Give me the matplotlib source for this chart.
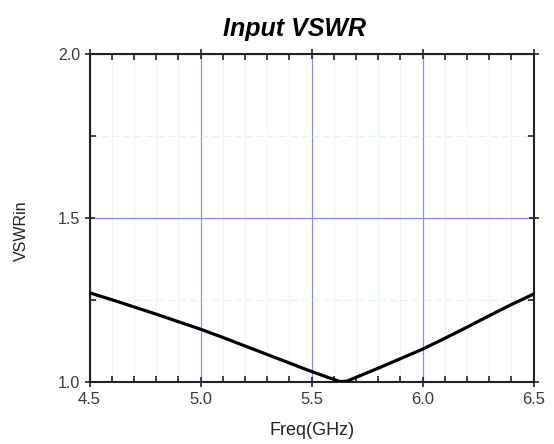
import matplotlib
matplotlib.use("Agg")
import matplotlib.pyplot as plt
from matplotlib.ticker import MultipleLocator

plt.rcParams['font.family'] = ['Liberation Sans', 'DejaVu Sans']

freq = [4.5, 4.6, 4.7, 4.8, 4.9, 5.0, 5.1, 5.2, 5.3, 5.4, 5.5, 5.6, 5.63, 5.66,
        5.7, 5.8, 5.9, 6.0, 6.1, 6.2, 6.3, 6.4, 6.5]
vswr = [1.272, 1.251, 1.229, 1.207, 1.184, 1.161, 1.136, 1.110, 1.084, 1.058,
        1.032, 1.008, 1.001, 1.003, 1.014, 1.042, 1.071, 1.100, 1.133, 1.167,
        1.202, 1.236, 1.268]
x_ticks = [4.5, 5.0, 5.5, 6.0, 6.5]
y_ticks = [1.0, 1.5, 2.0]

fig = plt.figure(figsize=(5.54, 4.44), dpi=100)
ax = fig.add_axes([0.1616, 0.1396, 0.8014, 0.7388])

ax.set_xlim(4.5, 6.5)
ax.set_ylim(1.0, 2.0)
ax.set_xticks(x_ticks)
ax.set_yticks(y_ticks)
ax.set_xticklabels([f"{v:.1f}" for v in x_ticks])
ax.set_yticklabels([f"{v:.1f}" for v in y_ticks])
ax.xaxis.set_minor_locator(MultipleLocator(0.1))
ax.yaxis.set_minor_locator(MultipleLocator(0.25))

# minor grid (light green)
ax.grid(which='minor', axis='x', color='#ebf8eb', linewidth=0.8, linestyle='-')
ax.grid(which='minor', axis='y', color='#e3f6e3', linewidth=0.8, linestyle=(0, (6, 4)))
# major grid (blue)
ax.grid(which='major', axis='both', color='#8c8cff', linewidth=0.9, linestyle='-')
ax.set_axisbelow(True)

ax.plot(freq, vswr, color='black', linewidth=2.3, solid_capstyle='round', zorder=3)

for s in ax.spines.values():
    s.set_color('#222222')
    s.set_linewidth(1.5)

ax.tick_params(which='major', direction='inout', length=7, width=1.2, color='#222222',
               top=True, right=True, labelsize=11.5, pad=3)
ax.tick_params(which='minor', direction='in', length=4, width=1.2, color='#222222',
               top=True, right=True)
ax.tick_params(axis='x', which='major', labelsize=12, pad=4)
ax.tick_params(axis='y', which='major', labelsize=11.5)
for lab in ax.get_xticklabels() + ax.get_yticklabels():
    lab.set_color('#3a3a3a')

fig.text(0.532, 0.962, 'Input VSWR', ha='center', va='top', fontsize=18,
         fontweight='bold', fontstyle='italic', color='black')
fig.text(0.563, 0.012, 'Freq(GHz)', ha='center', va='bottom', fontsize=13, color='#222222')
fig.text(0.038, 0.48, 'VSWRin', ha='center', va='center', rotation=90, fontsize=11.5,
         color='#222222')

fig.savefig('out.png', dpi=100)
